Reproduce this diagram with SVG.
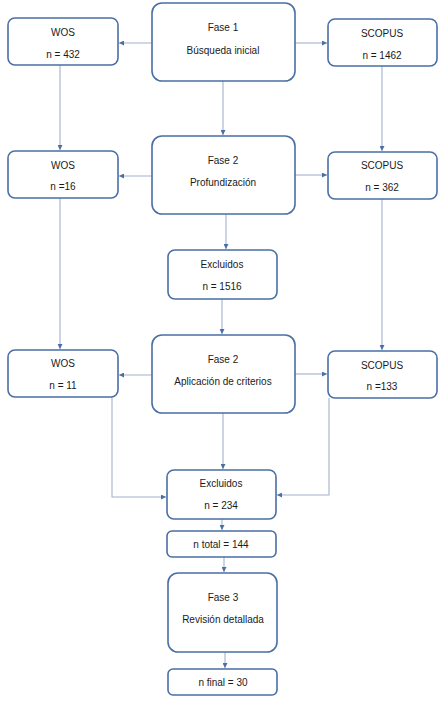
<svg xmlns="http://www.w3.org/2000/svg" width="444" height="701" viewBox="0 0 444 701">
<defs>
<marker id="ah" viewBox="0 0 10 10" refX="10" refY="5" markerWidth="5" markerHeight="5" orient="auto" markerUnits="userSpaceOnUse">
<path d="M0,0 L10,5 L0,10 z" fill="#4a6fa5"/>
</marker>
<style>
.box{fill:#fff;stroke:#4a6fa5;stroke-width:1.6}
.t{font-family:"Liberation Sans",Arial,sans-serif;font-size:10px;fill:#1a1a1a;text-anchor:middle;dominant-baseline:central}
.c{fill:none;stroke:#a3b1cc;stroke-width:1.1;marker-end:url(#ah)}
</style>
</defs>
<rect width="444" height="701" fill="#fff"/>
<g id="connectors">
<line class="c" x1="152" y1="43" x2="119" y2="43"/>
<line class="c" x1="295" y1="43" x2="327" y2="43"/>
<line class="c" x1="60" y1="65" x2="60" y2="150"/>
<line class="c" x1="382" y1="66" x2="382" y2="151"/>
<line class="c" x1="223" y1="81" x2="223" y2="135"/>
<line class="c" x1="152" y1="176" x2="119" y2="176"/>
<line class="c" x1="295" y1="175" x2="327" y2="175"/>
<line class="c" x1="226" y1="214" x2="226" y2="249"/>
<line class="c" x1="222" y1="299" x2="222" y2="334"/>
<line class="c" x1="60" y1="198" x2="60" y2="349"/>
<line class="c" x1="382" y1="199" x2="382" y2="350"/>
<line class="c" x1="152" y1="375" x2="119" y2="375"/>
<line class="c" x1="295" y1="374" x2="327" y2="374"/>
<line class="c" x1="223" y1="413" x2="223" y2="469"/>
<polyline class="c" points="112,397 112,497 166,497"/>
<polyline class="c" points="329,398 329,495 277,495"/>
<line class="c" x1="222" y1="519" x2="222" y2="530"/>
<line class="c" x1="224" y1="557" x2="224" y2="572"/>
<line class="c" x1="225" y1="652" x2="225" y2="668"/>
</g>
<g id="fase1"><rect class="box" x="152" y="3" width="143" height="78" rx="10"/><text class="t" x="223" y="27">Fase 1</text><text class="t" x="223" y="50">Búsqueda inicial</text></g>
<g id="wos1"><rect class="box" x="8" y="18" width="110" height="47" rx="7"/><text class="t" x="63" y="32">WOS</text><text class="t" x="63" y="54">n = 432</text></g>
<g id="scopus1"><rect class="box" x="328" y="19" width="109" height="47" rx="7"/><text class="t" x="382" y="33">SCOPUS</text><text class="t" x="382" y="55">n = 1462</text></g>
<g id="fase2a"><rect class="box" x="152" y="136" width="143" height="78" rx="10"/><text class="t" x="223" y="160">Fase 2</text><text class="t" x="223" y="182">Profundización</text></g>
<g id="wos2"><rect class="box" x="8" y="151" width="110" height="47" rx="7"/><text class="t" x="63" y="165">WOS</text><text class="t" x="63" y="186">n =16</text></g>
<g id="scopus2"><rect class="box" x="328" y="152" width="109" height="47" rx="7"/><text class="t" x="382" y="165">SCOPUS</text><text class="t" x="382" y="187">n = 362</text></g>
<g id="excluidos1"><rect class="box" x="168" y="250" width="109" height="49" rx="7"/><text class="t" x="222" y="264">Excluidos</text><text class="t" x="222" y="286">n = 1516</text></g>
<g id="fase2b"><rect class="box" x="152" y="335" width="143" height="78" rx="10"/><text class="t" x="223" y="359">Fase 2</text><text class="t" x="223" y="381">Aplicación de criterios</text></g>
<g id="wos3"><rect class="box" x="8" y="350" width="110" height="47" rx="7"/><text class="t" x="63" y="363">WOS</text><text class="t" x="63" y="385">n = 11</text></g>
<g id="scopus3"><rect class="box" x="328" y="351" width="109" height="47" rx="7"/><text class="t" x="382" y="365">SCOPUS</text><text class="t" x="382" y="386">n =133</text></g>
<g id="excluidos2"><rect class="box" x="167" y="470" width="109" height="49" rx="7"/><text class="t" x="221" y="483">Excluidos</text><text class="t" x="221" y="505">n = 234</text></g>
<g id="ntotal"><rect class="box" x="167" y="531" width="109" height="26" rx="5"/><text class="t" x="221" y="544">n total = 144</text></g>
<g id="fase3"><rect class="box" x="168" y="573" width="109" height="79" rx="10"/><text class="t" x="223" y="597">Fase 3</text><text class="t" x="223" y="619">Revisión detallada</text></g>
<g id="nfinal"><rect class="box" x="168" y="669" width="109" height="26" rx="5"/><text class="t" x="223" y="682">n final = 30</text></g>
</svg>
